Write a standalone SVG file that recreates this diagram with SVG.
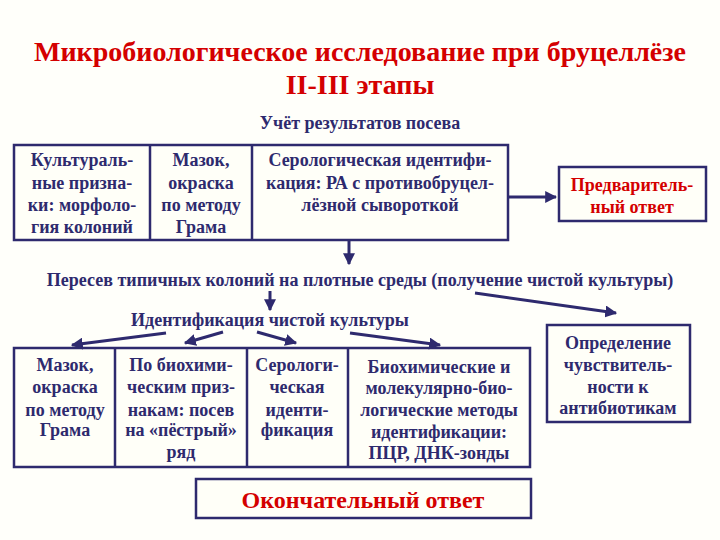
<svg xmlns="http://www.w3.org/2000/svg" width="720" height="540" viewBox="0 0 720 540">
<defs>
<marker id="ah" viewBox="0 0 10 10" refX="9" refY="5" markerWidth="4" markerHeight="4" orient="auto" markerUnits="strokeWidth">
<path d="M0,0 L10,5 L0,10 z" fill="#2E2A6E"/>
</marker>
<style>
text{font-family:"Liberation Serif","DejaVu Serif",serif;font-weight:bold;text-anchor:middle}
.t{fill:#2E2A6E;font-size:18px}
.r{fill:#D40000}
.box{fill:#FFFFF8;stroke:#2E2A6E;stroke-width:2.5}
.div{stroke:#2E2A6E;stroke-width:2.5}
.con{stroke:#2E2A6E;stroke-width:3;fill:none;marker-end:url(#ah)}
</style>
</defs>
<rect width="720" height="540" fill="#FFFFFA"/>
<g id="title">
<text x="360" y="61" class="r" font-size="28">Микробиологическое исследование при бруцеллёзе</text>
<text x="360" y="94" class="r" font-size="28">II-III этапы</text>
</g>
<g id="uchet"><text x="360" y="129" class="t">Учёт результатов посева</text></g>
<g id="top-row">
<rect class="box" x="14" y="145" width="494" height="95"/>
<line class="div" x1="150" y1="145" x2="150" y2="240"/>
<line class="div" x1="252" y1="145" x2="252" y2="240"/>
</g>
<g id="n-cult">
<text class="t" x="82" y="166">Культураль-</text>
<text class="t" x="82" y="189">ные призна-</text>
<text class="t" x="82" y="211">ки: морфоло-</text>
<text class="t" x="82" y="233">гия колоний</text>
</g>
<g id="n-mazok1">
<text class="t" x="201" y="166">Мазок,</text>
<text class="t" x="201" y="189">окраска</text>
<text class="t" x="201" y="211">по методу</text>
<text class="t" x="201" y="233">Грама</text>
</g>
<g id="n-sero1">
<text class="t" x="380" y="166">Серологическая идентифи-</text>
<text class="t" x="380" y="189">кация: РА с противобруцел-</text>
<text class="t" x="380" y="211">лёзной сывороткой</text>
</g>
<g id="n-prelim">
<rect class="box" x="559" y="167" width="147" height="54"/>
<text class="t r" x="632" y="191">Предваритель-</text>
<text class="t r" x="632" y="213">ный ответ</text>
</g>
<g id="n-peresev"><text class="t" x="360" y="286" font-size="19">Пересев типичных колоний на плотные среды (получение чистой культуры)</text></g>
<g id="n-ident"><text class="t" x="270" y="326" font-size="19">Идентификация чистой культуры</text></g>
<g id="n-sens">
<rect class="box" x="547" y="325" width="143" height="97"/>
<text class="t" x="618" y="349">Определение</text>
<text class="t" x="618" y="371">чувствитель-</text>
<text class="t" x="618" y="393">ности к</text>
<text class="t" x="618" y="414">антибиотикам</text>
</g>
<g id="bottom-row">
<rect class="box" x="14" y="348" width="516" height="119"/>
<line class="div" x1="115" y1="348" x2="115" y2="467"/>
<line class="div" x1="247" y1="348" x2="247" y2="467"/>
<line class="div" x1="348" y1="348" x2="348" y2="467"/>
</g>
<g id="n-mazok2">
<text class="t" x="65" y="371">Мазок,</text>
<text class="t" x="65" y="393">окраска</text>
<text class="t" x="65" y="416">по методу</text>
<text class="t" x="65" y="436">Грама</text>
</g>
<g id="n-bio">
<text class="t" x="181" y="371">По биохими-</text>
<text class="t" x="181" y="393">ческим приз-</text>
<text class="t" x="181" y="416">накам: посев</text>
<text class="t" x="181" y="436">на «пёстрый»</text>
<text class="t" x="181" y="458">ряд</text>
</g>
<g id="n-sero2">
<text class="t" x="297" y="371">Серологи-</text>
<text class="t" x="297" y="393">ческая</text>
<text class="t" x="297" y="416">иденти-</text>
<text class="t" x="297" y="436">фикация</text>
</g>
<g id="n-mol">
<text class="t" x="439" y="373">Биохимические и</text>
<text class="t" x="439" y="394">молекулярно-био-</text>
<text class="t" x="439" y="416">логические методы</text>
<text class="t" x="439" y="438">идентификации:</text>
<text class="t" x="439" y="459">ПЦР, ДНК-зонды</text>
</g>
<g id="n-final">
<rect class="box" x="196" y="479" width="335" height="39"/>
<text class="r" x="363" y="508" font-size="24">Окончательный ответ</text>
</g>
<g id="connectors">
<line class="con" x1="508" y1="197" x2="556" y2="197"/>
<line class="con" x1="349" y1="240" x2="349" y2="264"/>
<line class="con" x1="270" y1="291" x2="270" y2="310"/>
<line class="con" x1="475" y1="293" x2="616" y2="313"/>
<line class="con" x1="166" y1="333" x2="72" y2="345"/>
<line class="con" x1="223" y1="332" x2="185" y2="343"/>
<line class="con" x1="257" y1="332" x2="296" y2="343"/>
<line class="con" x1="350" y1="333" x2="440" y2="345"/>
</g>
</svg>
